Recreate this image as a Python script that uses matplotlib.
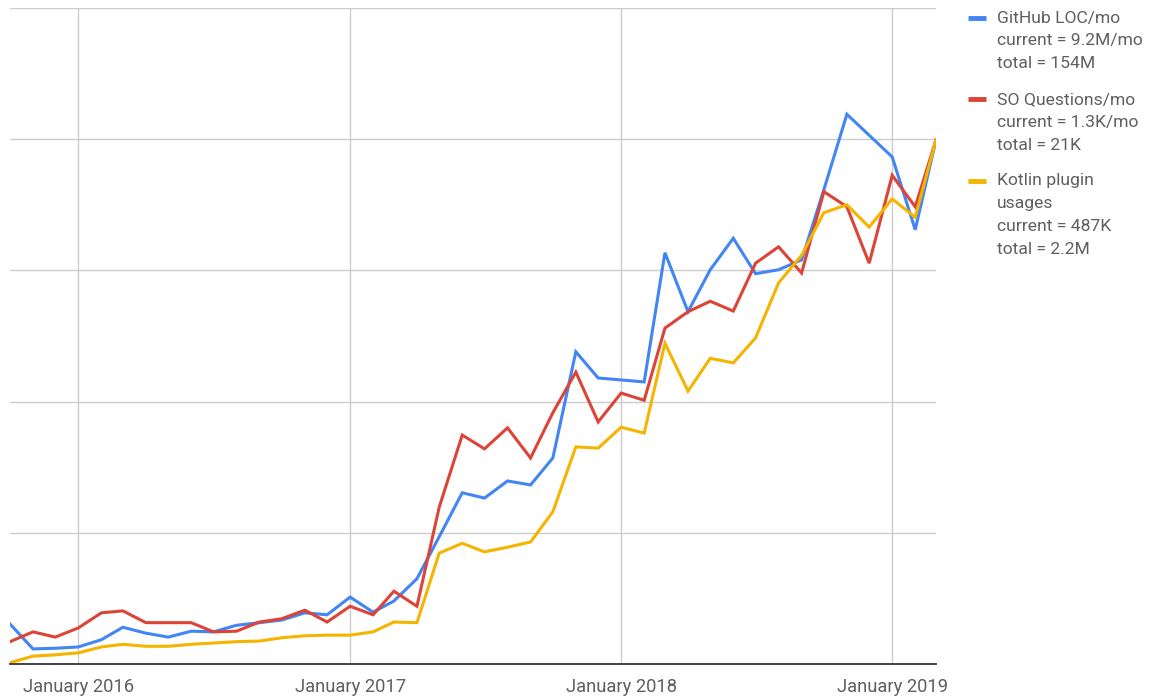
import matplotlib
matplotlib.use("Agg")
import matplotlib.pyplot as plt
import matplotlib.dates as mdates
from matplotlib.lines import Line2D
import pandas as pd

plt.rcParams['font.family'] = ['Roboto', 'DejaVu Sans']

months = pd.date_range('2015-10-01', periods=42, freq='MS')

# Normalised index values (0-100 scale, chart has no y labels)
github_loc = [6.1, 2.3, 2.4, 2.6, 3.7, 5.6, 4.7, 4.1, 5.0, 4.9, 5.9, 6.3, 6.7, 7.8,
              7.5, 10.2, 7.9, 9.6, 13.0, 19.4, 26.1, 25.3, 27.9, 27.3, 31.4, 47.6,
              43.6, 43.3, 43.0, 62.7, 53.7, 60.1, 64.9, 59.5, 60.1, 61.6, 72.3,
              83.8, 80.6, 77.3, 66.2, 79.9]
so_questions = [3.4, 4.9, 4.1, 5.5, 7.8, 8.1, 6.3, 6.3, 6.3, 4.9, 5.0, 6.4, 6.9, 8.2,
                6.4, 8.8, 7.5, 11.1, 8.8, 23.9, 34.9, 32.8, 36.0, 31.4, 38.3, 44.5,
                36.9, 41.3, 40.2, 51.2, 53.7, 55.3, 53.8, 61.1, 63.6, 59.6, 72.0,
                69.7, 61.1, 74.5, 69.7, 79.9]
kotlin_plugin = [0.2, 1.2, 1.4, 1.7, 2.6, 3.0, 2.7, 2.7, 3.0, 3.2, 3.4, 3.5, 4.0, 4.3,
                 4.4, 4.4, 4.9, 6.4, 6.3, 16.9, 18.4, 17.1, 17.8, 18.6, 23.2, 33.1,
                 32.9, 36.1, 35.2, 48.9, 41.6, 46.6, 45.9, 49.7, 58.1, 62.3, 68.8,
                 70.0, 66.6, 70.9, 68.1, 79.9]

series_names = ['GitHub LOC/mo', 'SO Questions/mo', 'Kotlin plugin usages']
legend_texts = [
    ['GitHub LOC/mo', 'current = 9.2M/mo', 'total = 154M'],
    ['SO Questions/mo', 'current = 1.3K/mo', 'total = 21K'],
    ['Kotlin plugin', 'usages', 'current = 487K', 'total = 2.2M'],
]
colors = ['#4285F4', '#DB4437', '#F4B400']

tick_dates = pd.to_datetime(['2016-01-01', '2017-01-01', '2018-01-01', '2019-01-01'])
tick_labels = ['January 2016', 'January 2017', 'January 2018', 'January 2019']

W, H = 1152, 698
fig = plt.figure(figsize=(W / 100, H / 100), dpi=100)
ax = fig.add_axes([10 / W, 1 - 664 / H, (936 - 10) / W, (664 - 8) / H])

for vals, c in zip([github_loc, so_questions, kotlin_plugin], colors):
    ax.plot(months, vals, color=c, lw=2.2, solid_joinstyle='miter', zorder=3)

ax.set_xlim(months[0], months[-1])
ax.set_ylim(0, 100)
ax.set_yticks([0, 20, 40, 60, 80, 100])
ax.set_yticklabels([])
ax.set_xticks(tick_dates)
ax.set_xticklabels(tick_labels, fontsize=13.2, color='#5f5f5f')
ax.tick_params(length=0, pad=10)
ax.tick_params(axis='y', length=0)
ax.grid(True, color='#cccccc', lw=1.0, zorder=0)
for s in ['top', 'right', 'left']:
    ax.spines[s].set_visible(False)
ax.spines['bottom'].set_color('#333333')
ax.spines['bottom'].set_linewidth(1.3)
ax.spines['bottom'].set_zorder(4)

# Legend (manual, to align swatch with first line)
line_h = 22.8
y0 = 18
for texts, c in zip(legend_texts, colors):
    fy = 1 - y0 / H
    fig.add_artist(Line2D([968 / W, 986 / W], [fy, fy], color=c, lw=3.5,
                          solid_capstyle='butt'))
    for k, t in enumerate(texts):
        fig.text(997 / W, 1 - (y0 + k * line_h) / H, t, fontsize=12.6,
                 color='#5f5f5f', va='center', ha='left')
    y0 += len(texts) * line_h + 13

fig.savefig('out.png', dpi=100)
